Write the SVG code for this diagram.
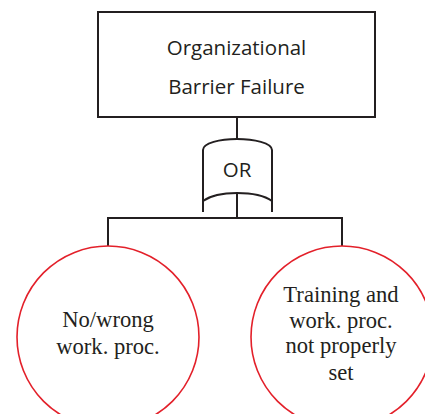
<svg xmlns="http://www.w3.org/2000/svg" width="425" height="414" viewBox="0 0 425 414">
<style>
.ln{fill:none;stroke:#231f20;stroke-width:2}
.ev{fill:#fff;stroke:#e3202a;stroke-width:1.6}
.sans{font-family:"Open Sans","Liberation Sans",sans-serif;font-size:20.5px;fill:#231f20;text-anchor:middle}
.serif{font-family:"Liberation Serif","Times New Roman",serif;font-size:22.6px;fill:#231f20;text-anchor:middle}
</style>
<rect width="425" height="414" fill="#fff"/>
<g id="connectors">
<path class="ln" d="M237,117 V139"/>
<path class="ln" d="M237,193 V218 M108,218 H342 M108,217 V246 M342,217 V246"/>
</g>
<g id="top-event">
<rect class="ln" x="98" y="12" width="277" height="105"/>
<text class="sans" x="236.5" y="55">Organizational</text>
<text class="sans" x="236.5" y="94">Barrier Failure</text>
</g>
<g id="or-gate">
<path class="ln" d="M203,212 V150 C203,143 220,139 237,139 C254,139 272,143 272,150 V212"/>
<path class="ln" d="M203,201 C210,196 222,193 237,193 C252,193 265,196 272,201"/>
<text class="sans" x="237" y="177">OR</text>
</g>
<g id="event-left">
<circle class="ev" cx="108" cy="337" r="91"/>
<text class="serif" x="108" y="327">No/wrong</text>
<text class="serif" x="108" y="354">work. proc.</text>
</g>
<g id="event-right">
<circle class="ev" cx="342" cy="337" r="91"/>
<text class="serif" x="341" y="302">Training and</text>
<text class="serif" x="341" y="328">work. proc.</text>
<text class="serif" x="341" y="353">not properly</text>
<text class="serif" x="341" y="380">set</text>
</g>
</svg>
